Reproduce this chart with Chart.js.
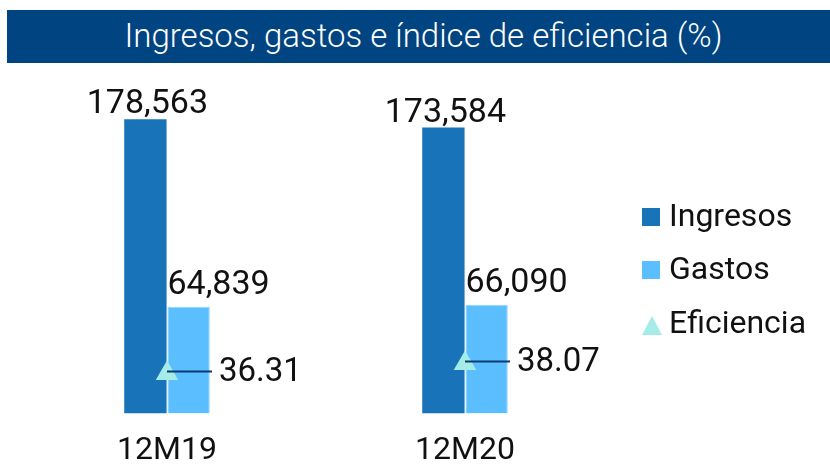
<!DOCTYPE html>
<html>
<head>
<meta charset="utf-8">
<script src="https://cdn.jsdelivr.net/npm/chart.js@4.4.0/dist/chart.umd.min.js"></script>
<style>
  html, body { margin: 0; padding: 0; background: #fff; overflow: hidden; }
  #wrap { position: relative; width: 830px; height: 464px; overflow: hidden; }
  #titulo {
    position: absolute; left: 7px; top: 10px; width: 823px; height: 53px;
    background: #004481; color: #fff;
    font-family: Roboto, sans-serif; font-size: 33px; font-weight: 300;
    line-height: 52px; text-align: center; padding-left: 10px; box-sizing: border-box;
  }
  #legend-container { position: absolute; left: 642px; top: 188px; }
  #legend-container ul { list-style: none; margin: 0; padding: 0; }
  #legend-container li { display: flex; align-items: center; height: 53.5px; }
  #legend-container p { margin: 0; font-family: Roboto, sans-serif; font-size: 32px; color: #111; }
  canvas { position: absolute; left: 0; top: 0; }
</style>
</head>
<body>
<div id="wrap">
  <canvas id="chartCanvas" width="830" height="488"></canvas>
  <div id="titulo">Ingresos, gastos e índice de eficiencia (%)</div>
  <div id="legend-container"></div>
</div>
<script>
// datos
const periodos = ['12M19', '12M20'];
const ingresos = [178563, 173584];
const gastos = [64839, 66090];
const eficiencia = [36.31, 38.07];

const colorIngresos = '#1973b8';
const colorGastos = '#5bbeff';
const colorEficiencia = '#a5ebe8';
const colorLinea = '#0b3a72';
const fuente = 'Roboto, sans-serif';

const fmtMiles = v => new Intl.NumberFormat('en-US').format(v);

// etiquetas de valores y linea guia de la eficiencia
const etiquetasPlugin = {
  id: 'etiquetas',
  afterDatasetsDraw(chart) {
    const ctx = chart.ctx;
    ctx.save();
    ctx.fillStyle = '#111';
    ctx.font = '34px ' + fuente;
    ctx.textBaseline = 'alphabetic';

    // Ingresos: centrado sobre la barra
    chart.getDatasetMeta(0).data.forEach((bar, i) => {
      ctx.textAlign = 'center';
      ctx.fillText(fmtMiles(ingresos[i]), bar.x + 2, bar.y - 6);
    });

    // Gastos: alineado al borde izquierdo de la barra
    chart.getDatasetMeta(1).data.forEach((bar, i) => {
      ctx.textAlign = 'left';
      ctx.fillText(fmtMiles(gastos[i]), bar.x - bar.width / 2, bar.y - 13);
    });

    // Eficiencia: linea y valor a la derecha
    ctx.font = '33px ' + fuente;
    chart.getDatasetMeta(2).data.forEach((pt, i) => {
      const y = pt.y - 2;
      ctx.strokeStyle = colorLinea;
      ctx.lineWidth = 2;
      ctx.beginPath();
      ctx.moveTo(pt.x, y);
      ctx.lineTo(pt.x + 45, y);
      ctx.stroke();
      ctx.textAlign = 'left';
      ctx.textBaseline = 'middle';
      ctx.fillText(eficiencia[i].toFixed(2), pt.x + 52, y + 1);
      ctx.textBaseline = 'alphabetic';
    });
    ctx.restore();
  }
};

const getOrCreateLegendList = (chart, id) => {
  const legendContainer = document.getElementById(id);
  let listContainer = legendContainer.querySelector('ul');
  if (!listContainer) {
    listContainer = document.createElement('ul');
    legendContainer.appendChild(listContainer);
  }
  return listContainer;
};

const htmlLegendPlugin = {
  id: 'htmlLegend',
  afterUpdate(chart, args, options) {
    const ul = getOrCreateLegendList(chart, options.containerID);
    while (ul.firstChild) {
      ul.firstChild.remove();
    }
    chart.data.datasets.forEach(ds => {
      const li = document.createElement('li');

      const box = document.createElement('span');
      box.style.display = 'inline-block';
      box.style.flexShrink = 0;
      box.style.marginRight = '9px';
      if (ds.type === 'line') {
        box.style.width = '0';
        box.style.height = '0';
        box.style.borderLeft = '10px solid transparent';
        box.style.borderRight = '10px solid transparent';
        box.style.borderBottom = '19px solid ' + ds.backgroundColor;
        box.style.marginTop = '8px';
        box.style.marginRight = '7px';
      } else {
        box.style.width = '18px';
        box.style.height = '18px';
        box.style.background = ds.backgroundColor;
        box.style.marginTop = '4px';
      }

      const p = document.createElement('p');
      p.appendChild(document.createTextNode(ds.label));

      li.appendChild(box);
      li.appendChild(p);
      ul.appendChild(li);
    });
  }
};

const ctx = document.getElementById('chartCanvas').getContext('2d');

new Chart(ctx, {
  type: 'bar',
  data: {
    labels: periodos,
    datasets: [
      {
        label: 'Ingresos',
        data: ingresos,
        backgroundColor: colorIngresos,
        categoryPercentage: 0.29,
        barPercentage: 0.98,
        yAxisID: 'y',
        order: 2
      },
      {
        label: 'Gastos',
        data: gastos,
        backgroundColor: colorGastos,
        borderColor: '#8fd3ff',
        borderWidth: 1,
        categoryPercentage: 0.29,
        barPercentage: 0.98,
        yAxisID: 'y',
        order: 2
      },
      {
        type: 'line',
        label: 'Eficiencia',
        data: eficiencia,
        showLine: false,
        pointStyle: 'triangle',
        pointRadius: 13,
        pointHoverRadius: 13,
        backgroundColor: colorEficiencia,
        borderColor: colorEficiencia,
        borderWidth: 0,
        yAxisID: 'y2',
        order: 1
      }
    ]
  },
  options: {
    responsive: false,
    animation: false,
    layout: {
      padding: { top: 84, left: 18, right: 216, bottom: 0 }
    },
    scales: {
      x: {
        grid: { display: false, drawTicks: false },
        border: { display: false },
        ticks: {
          color: '#111',
          padding: 22,
          font: { family: fuente, size: 32, lineHeight: 0.95 }
        }
      },
      y: {
        display: false,
        min: 0,
        max: 200000
      },
      y2: {
        display: false,
        min: 29.3,
        max: 87
      }
    },
    plugins: {
      htmlLegend: { containerID: 'legend-container' },
      legend: { display: false },
      tooltip: { enabled: false }
    }
  },
  plugins: [htmlLegendPlugin, etiquetasPlugin]
});
</script>
</body>
</html>
